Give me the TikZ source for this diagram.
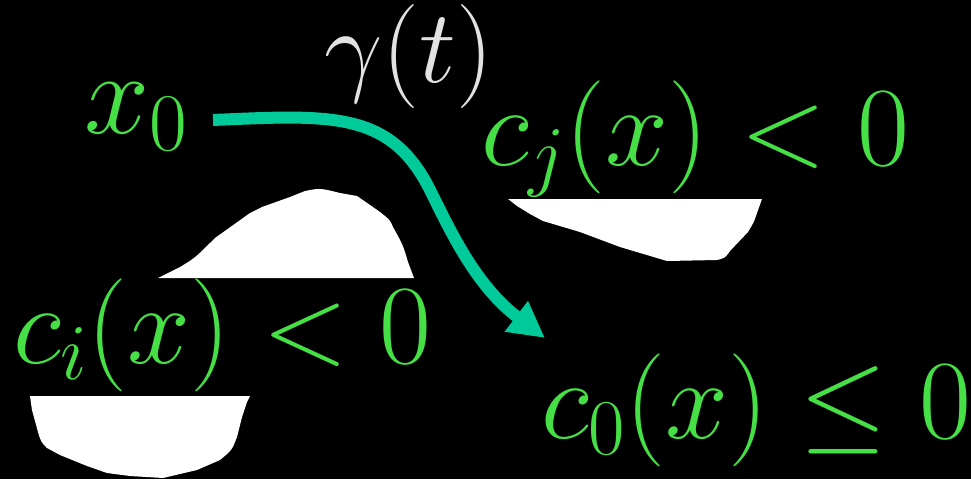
\documentclass[tikz,border=0pt]{standalone}
\usepackage{fix-cm}
\usepackage{amsmath}
\usetikzlibrary{arrows.meta}
\definecolor{lblgreen}{HTML}{46E046}
\definecolor{pathteal}{HTML}{00C99A}
\definecolor{pathgray}{HTML}{E2E2E2}
\tikzset{
  lbl/.style={anchor=base west, inner sep=0pt, text=lblgreen, font=\fontsize{113}{125}\selectfont},
  glbl/.style={anchor=base west, inner sep=0pt, text=pathgray, font=\fontsize{104}{115}\selectfont},
  blob/.style={fill=white, draw=none},
  traj/.style={draw=pathteal, line width=12pt, -{Triangle[length=36pt,width=36pt]}}
}
\begin{document}
\begin{tikzpicture}[x=1pt,y=-1pt]
\fill[black] (0,0) rectangle (971,479);
\useasboundingbox (0,0) rectangle (971,479);

% white regions
\fill[blob] (158,278) -- (180,267) .. controls (195,258) .. (215,238)
  -- (250,213) -- (262,207) -- (290,197) -- (305,191) .. controls (320,188) .. (340,193)
  -- (357,196) -- (370,205) -- (380,212) .. controls (390,220) .. (393,227)
  .. controls (403,245) .. (408,262) -- (414,278) -- cycle;
\fill[blob] (508,199) -- (517,206) -- (530,214) -- (543,221) -- (580,232)
  -- (620,247) -- (667,261) -- (717,260) .. controls (725,258) .. (730,251)
  -- (748,232) .. controls (754,222) .. (757,213) -- (762,199) -- cycle;
\fill[blob] (30,396) -- (32,410) -- (38,432) .. controls (41,442) .. (47,448)
  -- (60,455) -- (87,466) -- (107,473) -- (130,476) -- (163,478)
  -- (197,470) -- (220,460) .. controls (232,450) .. (237,437)
  -- (242,417) -- (247,402) -- (250,396) -- cycle;

% labels
\node[lbl, font=\fontsize{117}{130}\selectfont] (x0) at (84,133) {$x_0$};
\node[glbl] (gam) at (324,82) {$\gamma(t)$};
\node[lbl] (cj) at (481,165) {$c_j(x) < 0$};
\node[lbl] (ci) at (13,363) {$c_i(x) < 0$};
\node[lbl] (c0) at (541,438) {$c_0(x) \leq 0$};

% trajectory
\coordinate (s) at (213,120);
\coordinate (e) at (545,338);
\draw[traj] (s) .. controls (330,115) and (390,110) .. (430,190)
  .. controls (450,230) and (475,285) .. (e);
\end{tikzpicture}
\end{document}
